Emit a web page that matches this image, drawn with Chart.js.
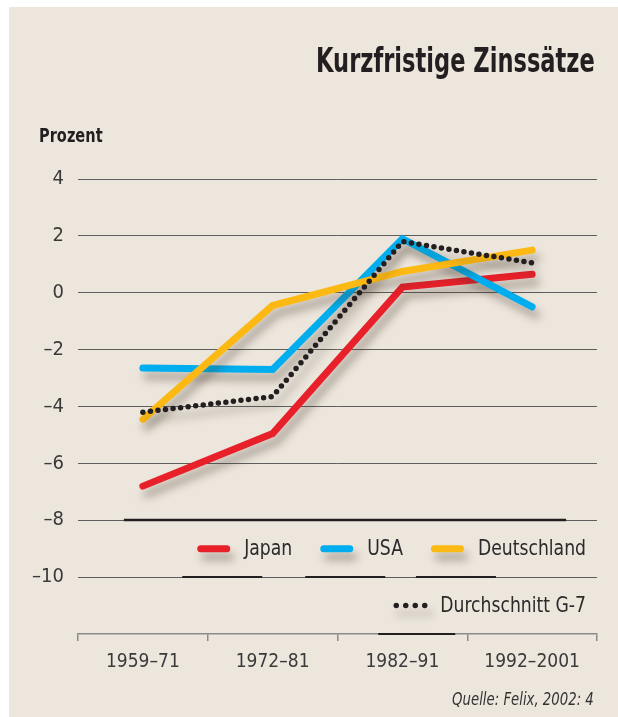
<!DOCTYPE html>
<html>
<head>
<meta charset="utf-8">
<script src="https://cdn.jsdelivr.net/npm/chart.js@4/dist/chart.umd.min.js"></script>
<style>
  html, body { margin: 0; padding: 0; background: #ffffff; }
  body { width: 618px; height: 717px; position: relative; overflow: hidden; }
  #bg { position: absolute; left: 9px; top: 7px; width: 609px; height: 710px; background: #ece6dd; }
  #wrap { position: absolute; left: 0; top: 0; width: 618px; height: 717px; }
  .txt { position: absolute; font-family: "Liberation Sans Narrow", "DejaVu Sans Condensed", "Arial Narrow", sans-serif; color: #231f20; white-space: nowrap; }
  #title { right: 23px; top: 44px; font-size: 33px; line-height: 33px; font-weight: bold; transform: scaleX(0.76); transform-origin: right center; }
  #unit { left: 39px; top: 125px; font-size: 20px; line-height: 20px; font-weight: bold; transform: scaleX(0.81); transform-origin: left center; }
  #source { right: 24px; top: 690px; font-size: 18px; line-height: 18px; font-style: italic; color: #333; transform: scaleX(0.82); transform-origin: right center; }
</style>
</head>
<body>
<div id="bg"></div>
<div id="wrap"><canvas id="c" width="618" height="717"></canvas></div>
<div class="txt" id="title">Kurzfristige Zinssätze</div>
<div class="txt" id="unit">Prozent</div>
<div class="txt" id="source">Quelle: Felix, 2002: 4</div>
<script>
// ---- data ----
const categories = ["1959\u201371", "1972\u201381", "1982\u201391", "1992\u20132001"];
const japan = [-6.8, -4.95, 0.2, 0.65];
const usa = [-2.65, -2.7, 1.9, -0.5];
const deutschland = [-4.45, -0.45, 0.75, 1.5];
const g7 = [-4.2, -3.65, 1.8, 1.05];
const seriesLabels = ["Japan", "USA", "Deutschland", "Durchschnitt G-7"];
const yMin = -12, yMax = 4, yStep = 2;

const FONT = '"Liberation Sans Narrow", "DejaVu Sans Condensed", "Arial Narrow", sans-serif';
const colors = { japan: '#e8202a', usa: '#00aeef', de: '#fdb913', g7: '#231f20' };
const LEGEND_SQUEEZE = 0.87;

const shadowPlugin = {
  id: 'shadow',
  beforeDatasetDraw(chart) {
    const ctx = chart.ctx;
    ctx.save();
    ctx.shadowColor = 'rgba(70,55,40,0.4)';
    ctx.shadowBlur = 9;
    ctx.shadowOffsetX = 4;
    ctx.shadowOffsetY = 8;
  },
  afterDatasetDraw(chart) {
    chart.ctx.restore();
  }
};

function legendLayout(chart) {
  const ctx = chart.ctx;
  ctx.save();
  ctx.font = '22px ' + FONT;
  const swW = 33, gapT = 14, gapI = 28;
  const right = chart.chartArea.right - 11;
  const rows = [[0, 1, 2], [3]];
  const rowVals = [-9, -11];
  const items = [];
  rows.forEach((row, ri) => {
    let x = right;
    const ys = chart.scales.y.getPixelForValue(rowVals[ri]);
    for (let k = row.length - 1; k >= 0; k--) {
      const i = row[k];
      const tw = ctx.measureText(seriesLabels[i]).width * LEGEND_SQUEEZE;
      const tx = x - tw;
      const sx = tx - gapT - swW;
      items.push({ i, sx, tx, y: ys, row: ri });
      x = sx - gapI;
    }
  });
  ctx.restore();
  return items;
}

const decoPlugin = {
  id: 'deco',
  beforeDatasetsDraw(chart) {
    const { ctx, scales } = chart;
    const x = scales.x, y = scales.y;
    ctx.save();
    ctx.strokeStyle = '#231f20';
    ctx.lineWidth = 2.5;
    const yy = Math.round(y.getPixelForValue(-8));
    ctx.beginPath();
    ctx.moveTo(x.getPixelForValue(0) - 19, yy);
    ctx.lineTo(x.getPixelForValue(3) + 34, yy);
    ctx.stroke();
    ctx.restore();
  },
  afterDraw(chart) {
    const { ctx, scales } = chart;
    const y = scales.y;
    const items = legendLayout(chart);
    const ds = chart.data.datasets;
    ctx.save();
    ctx.strokeStyle = '#231f20';
    ctx.lineWidth = 2;
    items.forEach(it => {
      const yy = Math.round(y.getPixelForValue(it.row === 0 ? -10 : -12));
      ctx.beginPath();
      ctx.moveTo(it.sx - 15, yy);
      ctx.lineTo(it.sx + (it.row === 0 ? 65 : 62), yy);
      ctx.stroke();
    });
    items.forEach(it => {
      const d = ds[it.i];
      ctx.save();
      ctx.shadowColor = 'rgba(70,55,40,0.4)';
      ctx.shadowBlur = 9;
      ctx.shadowOffsetX = 4;
      ctx.shadowOffsetY = 8;
      ctx.strokeStyle = d.borderColor;
      ctx.lineCap = 'round';
      if (d.borderDash && d.borderDash.length) {
        ctx.lineWidth = d.borderWidth;
        ctx.setLineDash([0, 9.5]);
        ctx.beginPath();
        ctx.moveTo(it.sx + 3, it.y);
        ctx.lineTo(it.sx + 3 + 3 * 9.5 + 0.1, it.y);
        ctx.stroke();
      } else {
        ctx.lineWidth = 7;
        ctx.beginPath();
        ctx.moveTo(it.sx + 3.5, it.y);
        ctx.lineTo(it.sx + 33 - 3.5, it.y);
        ctx.stroke();
      }
      ctx.restore();
    });
    ctx.font = '22px ' + FONT;
    ctx.fillStyle = '#2a2a2a';
    ctx.textBaseline = 'middle';
    ctx.textAlign = 'left';
    items.forEach(it => {
      ctx.save();
      ctx.translate(it.tx, it.y + 1);
      ctx.scale(LEGEND_SQUEEZE, 1);
      ctx.fillText(seriesLabels[it.i], 0, 0);
      ctx.restore();
    });
    ctx.restore();
  }
};

const lineBase = { fill: false, tension: 0, pointRadius: 0, pointHoverRadius: 0, borderCapStyle: 'round', borderJoinStyle: 'miter', clip: false };

new Chart(document.getElementById('c'), {
  type: 'line',
  data: {
    labels: categories,
    datasets: [
      Object.assign({}, lineBase, { label: seriesLabels[0], data: japan, borderColor: colors.japan, borderWidth: 7, order: 3 }),
      Object.assign({}, lineBase, { label: seriesLabels[1], data: usa, borderColor: colors.usa, borderWidth: 7, order: 2 }),
      Object.assign({}, lineBase, { label: seriesLabels[2], data: deutschland, borderColor: colors.de, borderWidth: 7, order: 1 }),
      Object.assign({}, lineBase, { label: seriesLabels[3], data: g7, borderColor: colors.g7, borderWidth: 5.5, borderDash: [0, 7.6], borderJoinStyle: 'round', order: 0 })
    ]
  },
  options: {
    responsive: false,
    animation: false,
    events: [],
    layout: { padding: { left: 0, top: 179, right: 21, bottom: 0 } },
    plugins: { legend: { display: false }, title: { display: false }, tooltip: { enabled: false } },
    scales: {
      x: {
        type: 'category',
        offset: true,
        afterFit(scale) { scale.height = 83; },
        grid: { offset: true, drawOnChartArea: false, drawTicks: true, tickLength: 7, color: '#8a8a8a', lineWidth: 1.5 },
        border: { display: true, color: '#8a8a8a', width: 1.5 },
        ticks: { color: '#3a3a3a', font: { family: FONT, size: 19 }, padding: 10, maxRotation: 0, autoSkip: false }
      },
      y: {
        min: yMin, max: yMax,
        afterFit(scale) { scale.width = 78; },
        grid: { drawTicks: false, color: ctx => (ctx.tick && ctx.tick.value === yMin) ? 'rgba(0,0,0,0)' : '#5e5e5e', lineWidth: 1 },
        border: { display: false },
        ticks: {
          stepSize: yStep,
          padding: 14,
          color: '#3a3a3a',
          font: { family: FONT, size: 20 },
          callback: v => v === yMin ? '' : String(v).replace('-', '\u2013')
        }
      }
    }
  },
  plugins: [shadowPlugin, decoPlugin]
});
</script>
</body>
</html>
